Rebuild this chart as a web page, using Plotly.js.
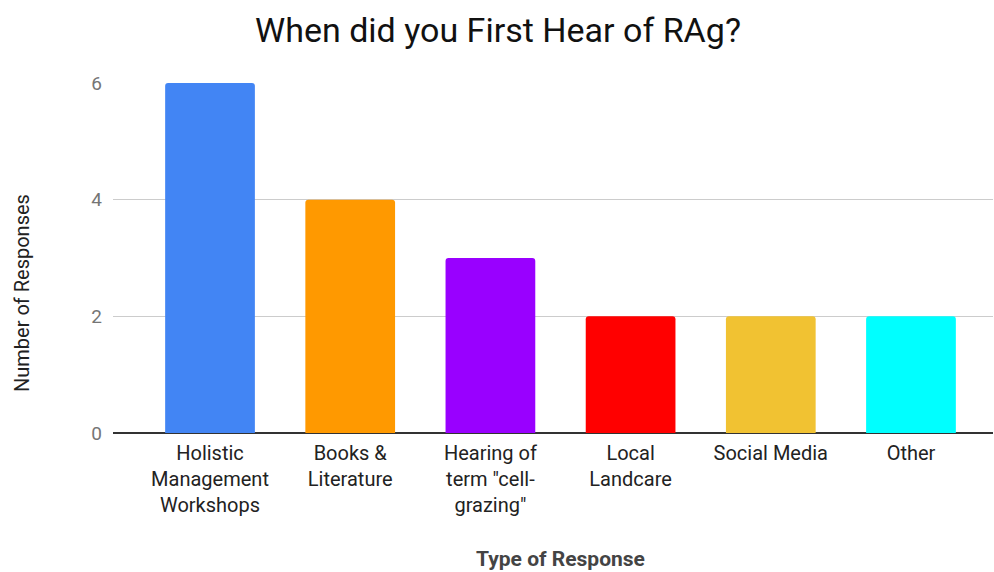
<!DOCTYPE html>
<html><head><meta charset="utf-8">
<script src="https://cdn.plot.ly/plotly-3.0.1.min.js"></script>
<style>html,body{margin:0;padding:0;background:#fff}#chart{width:994px;height:572px}</style>
</head><body><div id="chart"></div>
<script>
const categories = ["Holistic<br>Management<br>Workshops", "Books &<br>Literature", "Hearing of<br>term \"cell-<br>grazing\"", "Local<br>Landcare", "Social Media", "Other"];
const responses = [6, 4, 3, 2, 2, 2];
const barColors = ["#4285F4", "#FF9900", "#9900FF", "#FF0000", "#F1C232", "#00FFFF"];
const yTicks = [0, 2, 4, 6];

const idx = categories.map((_, i) => i);
Plotly.newPlot("chart", [{
  type: "bar",
  x: idx,
  y: responses,
  marker: {color: barColors, cornerradius: 3},
  width: 0.64,
  hoverinfo: "skip"
}], {
  width: 994, height: 572,
  margin: {l: 113, r: 1, t: 83, b: 139},
  paper_bgcolor: "#fff", plot_bgcolor: "#fff",
  font: {family: "Roboto, sans-serif"},
  showlegend: false,
  title: {text: "When did you First Hear of RAg?", x: 498/994, xanchor: "center", y: 1 - 30/572, yanchor: "middle",
          font: {family: "Roboto, sans-serif", size: 34, color: "#111"}},
  xaxis: {
    range: [-0.692, 5.585], tickvals: idx, ticktext: categories,
    showgrid: false, zeroline: false, showline: false, ticks: "",
    ticklabelstandoff: 6,
    tickfont: {size: 20, color: "#222"}, fixedrange: true
  },
  yaxis: {
    range: [0, 6], tickvals: yTicks, ticktext: yTicks.map(String),
    showgrid: true, gridcolor: "#cccccc", gridwidth: 1,
    zeroline: true, zerolinecolor: "#333", zerolinewidth: 1.5,
    showline: false, ticks: "", ticklabelstandoff: 10,
    tickfont: {size: 19, color: "#757575"}, fixedrange: true
  },
  annotations: [
    {text: "Number of Responses", xref: "paper", yref: "paper", x: (22-113)/880, y: (433-293)/350,
     textangle: -90, showarrow: false, xanchor: "center", yanchor: "middle",
     font: {size: 20, color: "#222"}},
    {text: "<b>Type of Response</b>", xref: "paper", yref: "paper", x: (560-113)/880, y: (433-559)/350,
     showarrow: false, xanchor: "center", yanchor: "middle",
     font: {size: 21, color: "#444"}}
  ]
}, {displayModeBar: false, staticPlot: true});
</script></body></html>
